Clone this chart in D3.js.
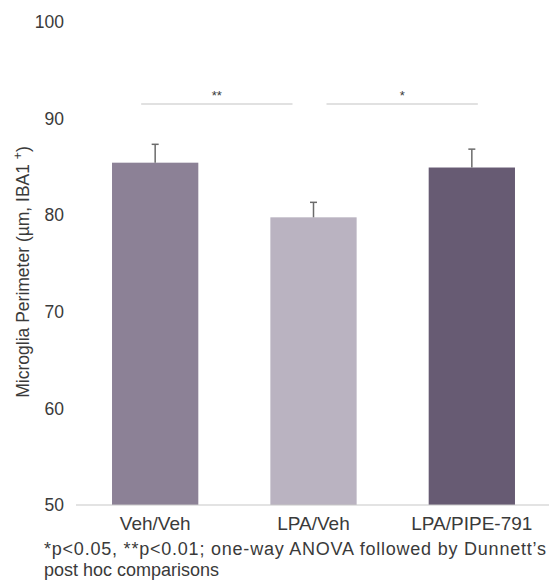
<!DOCTYPE html>
<html>
<head>
<meta charset="utf-8">
<script src="https://cdn.jsdelivr.net/npm/d3@7"></script>
<style>
  html, body { margin: 0; padding: 0; background: #fff; }
  svg { display: block; font-family: "Liberation Sans", Arial, sans-serif; }
</style>
</head>
<body>
<svg id="chart" width="549" height="587"></svg>
<script>
// Mean microglia perimeter per treatment group, with SEM
const groups = ["Veh/Veh", "LPA/Veh", "LPA/PIPE-791"];
const means = [85.4, 79.75, 84.9];
const sem = [1.9, 1.55, 1.9];
const barColors = ["#8c8196", "#bab3c1", "#675b73"];
const yTicks = [50, 60, 70, 80, 90, 100];
// Pairwise comparisons drawn above the bars
const comparisons = [
  { from: 0, to: 1, label: "**", x1Off: -14, x2Off: -21 },
  { from: 1, to: 2, label: "*", x1Off: 13, x2Off: 6 }
];

const svg = d3.select("#chart");
const textColor = "#3a3a3a";

const x = d3.scaleBand().domain(groups).range([76, 551]).paddingInner(0.455).paddingOuter(0.2275);
const y = d3.scaleLinear().domain([50, 100]).range([505, 21.5]);

// y tick labels (no axis line)
svg.append("g").selectAll("text").data(yTicks).join("text")
  .attr("x", 64).attr("y", d => y(d)).attr("dy", "0.36em")
  .attr("text-anchor", "end").attr("font-size", 17.5).attr("fill", textColor)
  .text(d => d);

// bars
svg.append("g").selectAll("rect").data(groups).join("rect")
  .attr("x", d => x(d)).attr("width", x.bandwidth())
  .attr("y", (d, i) => y(means[i])).attr("height", (d, i) => y(50) - y(means[i]))
  .attr("fill", (d, i) => barColors[i]);

// error bars (upper only)
const eb = svg.append("g").attr("stroke", "#6b6b6b").attr("stroke-width", 1.5);
groups.forEach((g, i) => {
  const cx = x(g) + x.bandwidth() / 2;
  eb.append("line").attr("x1", cx).attr("x2", cx).attr("y1", y(means[i])).attr("y2", y(means[i] + sem[i]));
  eb.append("line").attr("x1", cx - 3.5).attr("x2", cx + 3.5).attr("y1", y(means[i] + sem[i])).attr("y2", y(means[i] + sem[i]));
});

// baseline axis
svg.append("line").attr("x1", 76).attr("x2", 549).attr("y1", y(50)).attr("y2", y(50))
  .attr("stroke", "#c8c8c8").attr("stroke-width", 1.2);

// category labels
svg.append("g").selectAll("text").data(groups).join("text")
  .attr("x", d => x(d) + x.bandwidth() / 2).attr("y", 530)
  .attr("text-anchor", "middle").attr("font-size", 19).attr("fill", textColor)
  .text(d => d);

// significance lines and stars
const sigY = 104;
comparisons.forEach(c => {
  const x1 = x(groups[c.from]) + x.bandwidth() / 2 + c.x1Off;
  const x2 = x(groups[c.to]) + x.bandwidth() / 2 + c.x2Off;
  svg.append("line").attr("x1", x1).attr("x2", x2).attr("y1", sigY).attr("y2", sigY)
    .attr("stroke", "#c4c4c4").attr("stroke-width", 1.2);
  svg.append("text").attr("x", (x1 + x2) / 2).attr("y", sigY - 4)
    .attr("text-anchor", "middle").attr("font-size", 13).attr("fill", textColor)
    .text(c.label);
});

// y axis title
svg.append("text")
  .attr("transform", "translate(29,272) rotate(-90)")
  .attr("text-anchor", "middle").attr("font-size", 17.5).attr("fill", textColor)
  .html('Microglia Perimeter (µm, IBA1 <tspan baseline-shift="super" font-size="12">+</tspan>)');

// footnote
const foot = svg.append("g").attr("font-size", 18).attr("fill", textColor);
foot.append("text").attr("x", 44).attr("y", 555)
  .attr("textLength", 502).attr("lengthAdjust", "spacing")
  .text("*p<0.05, **p<0.01; one-way ANOVA followed by Dunnett’s");
foot.append("text").attr("x", 44).attr("y", 576)
  .text("post hoc comparisons");
</script>
</body>
</html>
